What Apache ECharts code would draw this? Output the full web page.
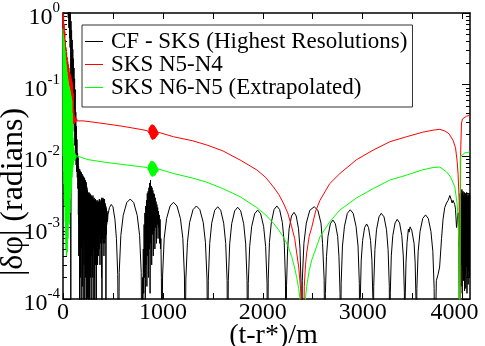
<!DOCTYPE html>
<html><head><meta charset="utf-8">
<script src="https://cdn.jsdelivr.net/npm/echarts@6/dist/echarts.min.js"></script>
<style>html,body{margin:0;padding:0;background:#fff}#c{width:485px;height:346px}</style>
</head><body><div id="c"></div>
<script>
// ---- labels / ticks ----
const seriesNames = ['CF - SKS (Highest Resolutions)', 'SKS N5-N4', 'SKS N6-N5 (Extrapolated)'];
const seriesColors = ['#000000', '#ff0000', '#00ff00'];
const xTicks = [0, 500, 1000, 1500, 2000, 2500, 3000, 3500, 4000];
const xLabels = [0, 1000, 2000, 3000, 4000];
const yDecades = [1e-4, 1e-3, 1e-2, 1e-1, 1];
const yMinor = [2e-4,3e-4,4e-4,5e-4,6e-4,7e-4,8e-4,9e-4,
  2e-3,3e-3,4e-3,5e-3,6e-3,7e-3,8e-3,9e-3,
  0.02,0.03,0.04,0.05,0.06,0.07,0.08,0.09,
  0.2,0.3,0.4,0.5,0.6,0.7,0.8,0.9];

// ---- black: CF - SKS ----
const blackOnset = [
 [50,3],[53,0.85],[56,2.6],[59,0.62],[62,1.9],[65,0.45],[68,1.4],[71,0.33],[74,1.05],[77,0.24],[78,5e-5],
 [80,0.77],[83,0.17],[86,0.57],[89,0.12],[92,0.42],[95,0.086],[98,0.31],[101,0.055],[104,0.23],[107,0.035],
 [110,0.17],[113,0.022],[116,0.12],[119,0.014],[122,0.085],[125,0.0092],[128,0.041],[131,0.0075],[134,0.026],
 [137,0.006],[140,0.017],[143,0.005],[146,0.011],[149,0.0035]
];
const blackNoise = [
 [152,0.0095],[154,0.0015],[156,0.0072],[158,0.0004],[160,0.0066],[162,0.0011],[164,0.0062],[166,0.00008],[168,0.0065],
 [170,0.0007],[172,0.0058],[174,0.0002],[176,0.0061],[178,0.0012],[180,0.0055],[182,0.00005],[184,0.0059],[186,0.0005],
 [188,0.0052],[190,0.0009],[192,0.0056],[194,0.00015],[196,0.005],[198,0.0006],[200,0.0053],[202,0.00004],[204,0.0048],
 [206,0.0008],[208,0.0051],[210,0.0003],[212,0.0046],[214,0.001],[216,0.0049],[218,0.00007],[220,0.0044],[222,0.0005],
 [224,0.0046],[226,0.0002],[228,0.0041],[230,0.0009],[232,0.0043],[234,0.00006],[236,0.0038],[238,0.0004],[240,0.0036],
 [242,0.0007],[244,0.0033],[246,0.0001],[248,0.0031],[250,0.0006],[252,0.003],[254,0.00004],[256,0.0029],[258,0.0004],
 [260,0.0031],[262,0.0008],[264,0.0028],[266,0.00009],[268,0.003],[270,0.0005],[272,0.0027],[274,0.0002],[276,0.0029],
 [278,0.0007],[280,0.0026],[282,0.00005],[284,0.0028],[286,0.0004],[288,0.0025],[290,0.0009],[292,0.0027],[294,0.0002],
 [296,0.0024],[298,0.0006],[300,0.0028],[302,0.00008],[304,0.0025],[306,0.0005],[308,0.0023],[310,0.0009],[312,0.0026],
 [314,0.0002],[316,0.0024],[318,0.00003],[320,0.0022],[322,0.0006],[324,0.0025],[326,0.0003],[328,0.0023],[330,0.0008],
 [332,0.0024],[334,0.00006],[336,0.0021],[338,0.0005],[340,0.0023],[342,0.0009],[344,0.0022],[346,0.0003],[348,0.0024],
 [350,0.0007],[352,0.0021],[354,0.0004],[356,0.0023],[358,0.001],[360,0.0022],[362,0.0005],[364,0.0025],[366,0.0008],
 [368,0.0021],[370,0.0003],[372,0.0023],[374,0.0011],[376,0.0022],[378,0.0006],[380,0.0024],[382,0.0009],[384,0.0025],
 [386,0.0002],[388,0.0026],[390,0.00005],[392,0.0024],[394,0.0007],[396,0.0025],[398,0.001],[400,0.0026],[402,0.0006],
 [404,0.0024],[406,0.0011],[408,0.0025],[410,0.0004],[412,0.0023],[414,0.0009],[416,0.0025],[418,0.0006],[420,0.0022],
 [422,0.0012],[424,0.0021],[426,0.0007],[428,0.002],[430,0.00004],[432,0.0019],[434,0.0008],[436,0.0018],[438,0.0011],
 [440,0.0017],[442,0.0013],[444,0.0016],[446,0.0012]
];
const blackArchesA = [
 [450,0.0015],[465,0.0019],[483,0.0021],[500,0.00195],[520,0.0013],[535,0.0007],[548,0.00022],[556,1e-5],
 [563,2.35e-4],[579,7.75e-4],[603,1.48e-3],[638,2.23e-3],[673,2.5e-3],[708,2.23e-3],[743,1.48e-3],[767,7.75e-4],[783,2.35e-4],[790,1e-5]
];
const blackBurst = [
 [796,0.0002],[800,0.00006],[804,0.0005],[808,0.00012],[812,0.0011],[816,0.0002],[820,0.0016],[824,0.00008],
 [828,0.002],[832,0.0003],[836,0.0024],[840,0.00015],[844,0.003],[848,0.0004],[852,0.0032],[856,0.0002],
 [860,0.0036],[864,0.0005],[868,0.0042],[872,0.00012],[876,0.0046],[880,0.0006],[884,0.0038],[888,0.0003],
 [892,0.0036],[896,0.0008],[900,0.0033],[904,0.0004],[908,0.003],[912,0.0009],[916,0.0029],[920,0.0005],
 [924,0.0026],[928,0.001],[932,0.0023],[936,0.0006],[940,0.0021],[944,0.0011],[948,0.0019],[952,0.0007],
 [956,0.0017],[960,0.001],[964,0.0015],[968,0.0006],[972,0.0013],[976,0.0005],[980,0.0007],[985,0.0002],[990,1e-5]
];
const blackArchesB = [
 [997,2.1e-4],[1013,7e-4],[1037,1.33e-3],[1072,2.0e-3],[1106,2.25e-3],[1141,2.0e-3],[1176,1.33e-3],[1200,7e-4],[1216,2.1e-4],[1223,1e-5],
 [1230,1.9e-4],[1246,6.2e-4],[1268,1.18e-3],[1302,1.78e-3],[1336,2.0e-3],[1370,1.78e-3],[1404,1.18e-3],[1426,6.2e-4],[1442,1.9e-4],[1449,1e-5],
 [1455,1.83e-4],[1469,6e-4],[1489,1.15e-3],[1519,1.74e-3],[1549,1.95e-3],[1579,1.74e-3],[1609,1.15e-3],[1629,6e-4],[1643,1.83e-4],[1649,1e-5],
 [1655,1.8e-4],[1669,5.9e-4],[1689,1.13e-3],[1719,1.71e-3],[1749,1.92e-3],[1779,1.71e-3],[1809,1.13e-3],[1829,5.9e-4],[1843,1.8e-4],[1849,1e-5],
 [1855,1.65e-4],[1869,5.4e-4],[1889,1.03e-3],[1919,1.56e-3],[1949,1.75e-3],[1979,1.56e-3],[2009,1.03e-3],[2029,5.4e-4],[2043,1.65e-4],[2049,1e-5],
 [2055,1.9e-4],[2067,6.2e-4],[2086,1.18e-3],[2113,1.78e-3],[2141,2.0e-3],[2169,1.78e-3],[2196,1.18e-3],[2215,6.2e-4],[2227,1.9e-4],[2233,1e-5],
 [2238,1.53e-4],[2249,5.05e-4],[2264,9.6e-4],[2288,1.45e-3],[2313,1.63e-3],[2335,1.45e-3],[2358,9.6e-4],[2373,5.05e-4],[2384,1.53e-4],[2389,1e-5],
 [2396,1.83e-4],[2412,6e-4],[2436,1.15e-3],[2471,1.74e-3],[2515,1.95e-3],[2552,1.74e-3],[2583,1.15e-3],[2599,6e-4],[2615,1.83e-4],[2622,1e-5],
 [2627,1.2e-4],[2638,3.9e-4],[2653,7.5e-4],[2677,1.13e-3],[2702,1.27e-3],[2727,1.13e-3],[2750,7.5e-4],[2763,3.9e-4],[2774,1.2e-4],[2779,1e-5],
 [2785,1.66e-4],[2798,5.5e-4],[2818,1.04e-3],[2847,1.58e-3],[2876,1.77e-3],[2905,1.58e-3],[2934,1.04e-3],[2954,5.5e-4],[2967,1.66e-4],[2973,1e-5],
 [2977,1.05e-4],[2986,3.5e-4],[3000,6.6e-4],[3020,1.0e-3],[3040,1.12e-3],[3059,1.0e-3],[3079,6.6e-4],[3093,3.5e-4],[3102,1.05e-4],[3106,1e-5],
 [3111,1.5e-4],[3123,4.9e-4],[3139,9.3e-4],[3164,1.41e-3],[3186,1.58e-3],[3214,1.41e-3],[3239,9.3e-4],[3255,4.9e-4],[3267,1.5e-4],[3272,1e-5],
 [3277,1.22e-4],[3287,4e-4],[3302,7.7e-4],[3325,1.16e-3],[3346,1.3e-3],[3370,1.16e-3],[3392,7.7e-4],[3407,4e-4],[3418,1.22e-4],[3422,1e-5],
 [3426,1e-4],[3434,3.2e-4],[3445,6.2e-4],[3458,9.5e-4],[3465,8.6e-4],[3475,1.02e-3],[3492,9.1e-4],[3515,6e-4],[3526,3.2e-4],[3534,1e-4],[3538,1e-5],
 [3543,1.4e-4],[3556,4.6e-4],[3575,8.8e-4],[3602,1.34e-3],[3630,1.5e-3],[3657,1.34e-3],[3684,8.8e-4],[3703,4.6e-4],[3716,1.4e-4],[3721,1e-5],
 [3738,1.8e-4],[3755,2.2e-4],[3771,2.8e-4],[3790,7e-4],[3805,1.3e-3],[3822,1.9e-3],[3840,2.2e-3],[3856,2.4e-3],[3873,2.8e-3],[3885,2.5e-3],
 [3896,2.2e-3],[3905,2.4e-3],[3913,2.4e-3],[3922,2.1e-3],[3930,1.8e-3],[3940,1.0e-3],[3948,1.3e-3],[3956,1.6e-3],[3963,5e-4],[3970,1e-5]
];
const blackEnd = [
 [3973,0.0008],[3976,0.003],[3979,0.0002],[3982,0.0033],[3985,0.00015],[3988,0.0029],[3991,0.0003],[3994,0.0034],
 [3997,0.00012],[4000,0.003],[4003,0.00025],[4006,0.0032],[4009,0.00018],[4012,0.0028],[4015,0.0003],[4018,0.0031],
 [4021,0.00013],[4024,0.0027],[4027,0.00022],[4030,0.003],[4033,0.00014],[4036,0.0028],[4039,0.00028],[4042,0.0031],
 [4045,0.00012],[4048,0.0027],[4051,0.0002],[4054,0.0029],[4057,0.00016],[4060,0.0028],[4063,0.00025],[4066,0.003],
 [4069,0.0002],[4072,0.0028]
];

// ---- red: SKS N5-N4 ----
const redOnset = [
 [0,1.0],[3,0.3],[6,0.95],[9,0.22],[12,0.7],[15,0.16],[18,0.55],[21,0.12],[24,0.42],[27,0.09],[30,0.33],[33,0.07],
 [36,0.28],[39,0.055],[42,0.24],[45,0.045],[48,0.21],[51,0.04],[54,0.19],[57,0.035],[60,0.17],[63,0.032],[66,0.15],
 [69,0.03],[72,0.14],[75,0.029],[78,0.13],[81,0.028],[84,0.12],[87,0.027],[90,0.11],[93,0.027],[96,0.1],[99,0.028],
 [102,0.075],[105,0.029],[108,0.045],[111,0.028],[114,0.037],[117,0.029],[120,0.035],[124,0.03],[128,0.034],
 [132,0.0305],[136,0.0335],[140,0.031],[145,0.033],[150,0.0315],[160,0.0322]
];
const redMid = [
 [200,0.031],[300,0.0298],[440,0.028],[600,0.026],[773,0.0236],[845,0.0226]
];
const redBurst = [
 [848,0.0222],[851,0.0232],[854,0.0215],[857,0.0238],[860,0.0209],[863,0.0245],[866,0.0202],[869,0.0252],[872,0.0195],
 [875,0.026],[878,0.0186],[881,0.0268],[884,0.0178],[887,0.0272],[890,0.0172],[893,0.0275],[896,0.017],[899,0.0272],
 [902,0.0171],[905,0.027],[908,0.0172],[911,0.0266],[914,0.0173],[917,0.026],[920,0.0176],[923,0.0252],[926,0.018],
 [929,0.0245],[932,0.0185],[935,0.0236],[938,0.019],[941,0.0228],[944,0.0195],[947,0.0222],[950,0.0198],[953,0.0215],
 [956,0.0202],[960,0.0208],[970,0.0205]
];
const redLate = [
 [1106,0.0186],[1300,0.0163],[1440,0.01426],[1600,0.0118],[1773,0.0088],[1940,0.0064],[2030,0.005],[2106,0.0037],
 [2160,0.0029],[2206,0.0022],[2250,0.0016],[2290,0.00102],[2320,0.0007],[2340,0.00044],[2360,0.00028],[2383,0.00012],
 [2400,0.00001],[2416,0.00015],[2428,0.0003],[2440,0.00044],[2465,0.00075],[2490,0.001],[2530,0.0017],[2573,0.0024],
 [2670,0.0041],[2773,0.0057],[2940,0.0089],[3106,0.0121],[3271,0.0158],[3440,0.0186],[3600,0.0215],[3706,0.023],
 [3773,0.0236],[3823,0.0224],[3865,0.0205],[3906,0.0165],[3930,0.013],[3946,0.0085],[3956,0.0055],[3966,0.0024],
 [3974,0.00001],[3982,0.012],[3990,0.029],[4000,0.033],[4013,0.0345],[4040,0.036],[4072,0.037]
];

// ---- green: SKS N6-N5 (Extrapolated) ----
const greenOnset = [
 [0,0.6],[2,0.01],[4,0.5],[6,0.006],[8,0.45],[10,0.004],[12,0.4],[14,0.0025],[16,0.35],[18,0.002],[20,0.3],[22,0.0012],
 [24,0.25],[26,0.0008],[28,0.22],[30,0.0005],[32,0.19],[34,0.0004],[36,0.17],[38,0.0006],[40,0.15],[42,0.00045],
 [44,0.13],[46,0.0009],[48,0.12],[50,0.0007],[52,0.11],[54,0.0012],[56,0.1],[58,0.0015],[60,0.095],[62,0.0011],
 [64,0.09],[66,0.002],[68,0.085],[70,0.0016],[72,0.08],[74,0.0025],[76,0.075],[78,0.003],[80,0.07],[82,0.0035],
 [84,0.065],[86,0.004],[88,0.06],[90,0.005],[92,0.04],[94,0.006],[96,0.028],[98,0.0068],[100,0.018],[102,0.0075],
 [104,0.015],[106,0.008],[108,0.013],[110,0.0085],[112,0.012],[115,0.0088],[118,0.011],[121,0.009],[124,0.0105],
 [128,0.0093],[132,0.0101],[136,0.0095],[140,0.0099],[150,0.0096]
];
const greenMid = [
 [250,0.0089],[440,0.0081],[600,0.0076],[773,0.0071],[845,0.0069]
];
const greenBurst = [
 [848,0.0066],[851,0.0071],[854,0.0064],[857,0.0074],[860,0.0062],[863,0.0077],[866,0.0059],[869,0.0079],[872,0.0057],
 [875,0.0082],[878,0.0055],[881,0.0084],[884,0.0053],[887,0.0085],[890,0.0052],[893,0.0085],[896,0.0052],[899,0.0084],
 [902,0.0052],[905,0.0083],[908,0.0053],[911,0.0082],[914,0.0053],[917,0.008],[920,0.0054],[923,0.0078],[926,0.0055],
 [929,0.0076],[932,0.0057],[935,0.0073],[938,0.0059],[941,0.007],[944,0.006],[947,0.0068],[950,0.0061],[953,0.0066],
 [956,0.0062],[960,0.0064],[970,0.0063]
];
const greenLate = [
 [1106,0.0057],[1300,0.0049],[1440,0.0043],[1600,0.0035],[1773,0.0027],[1940,0.0019],[2030,0.0015],[2106,0.00115],
 [2160,0.00092],[2206,0.00074],[2250,0.00056],[2290,0.00039],[2320,0.00027],[2340,0.0002],[2360,0.00014],[2373,0.0001],
 [2390,0.00004],[2400,0.00001],[2420,0.00008],[2440,0.00015],[2465,0.00025],[2490,0.00035],[2530,0.0005],[2573,0.00074],
 [2670,0.0012],[2773,0.00176],[2940,0.0026],[3106,0.0035],[3271,0.0046],[3440,0.0054],[3600,0.0064],[3706,0.0069],
 [3773,0.007],[3840,0.006],[3880,0.0051],[3923,0.0037],[3945,0.0022],[3956,0.0014],[3963,0.0006],[3972,0.00001],
 [3978,0.0098],[3990,0.0104],[4021,0.011],[4072,0.0114]
];

const blackData = [].concat(blackOnset, blackNoise, blackArchesA, blackBurst, blackArchesB, blackEnd);
const redData = [].concat(redOnset, redMid, redBurst, redLate);
const greenData = [].concat(greenOnset, greenMid, greenBurst, greenLate);
const allData = [blackData, redData, greenData];

const FONT = '"Liberation Serif","Times New Roman","DejaVu Serif",serif';
const chart = echarts.init(document.getElementById('c'), null, {renderer: 'canvas'});

const axisLineStyle = {show: true, lineStyle: {color: '#000', width: 1.5}};
const yMajorTick = {show: true, inside: true, length: 8, customValues: yDecades, lineStyle: {color: '#000', width: 1}};
const yMinorTick = {show: true, inside: true, length: 4, customValues: yMinor, lineStyle: {color: '#000', width: 1}};
const xTick = {show: true, inside: true, length: 6, customValues: xTicks, lineStyle: {color: '#000', width: 1}};
const logBase = {type: 'log', logBase: 10, min: 1e-4, max: 1, splitLine: {show: false}, minorTick: {show: false}};

function yAxis(pos, major) {
  return Object.assign({}, logBase, {
    position: pos,
    axisLine: major ? axisLineStyle : {show: false},
    axisTick: major ? yMajorTick : yMinorTick,
    axisLabel: {show: false}
  });
}

const leftMain = Object.assign(yAxis('left', true), {
  axisLabel: {
    show: true, customValues: yDecades, margin: 3,
    formatter: function (v) { return '{b|10}{s|' + Math.round(Math.log10(v)) + '}'; },
    rich: {
      b: {fontFamily: FONT, fontSize: 24, lineHeight: 24, color: '#000', padding: [10, 0, 0, 0]},
      s: {fontFamily: FONT, fontSize: 15, lineHeight: 15, color: '#000', verticalAlign: 'top'}
    }
  },
  name: '|δφ| (radians)', nameLocation: 'middle', nameGap: 33, nameRotate: 90, nameMoveOverlap: false,
  nameTextStyle: {fontFamily: FONT, fontSize: 32, color: '#000', padding: [0, 72, 0, 0]}
});

const option = {
  animation: false,
  backgroundColor: '#fff',
  grid: {left: 63, right: 15, top: 13, bottom: 47, containLabel: false, outerBoundsMode: 'none'},
  legend: {
    left: 82, top: 25, orient: 'vertical', data: seriesNames, icon: 'rect',
    itemWidth: 18, itemHeight: 1, itemGap: 0, padding: [5, 5, 8, 3],
    borderColor: '#333', borderWidth: 1, backgroundColor: '#fff', selectedMode: false,
    textStyle: {fontFamily: FONT, fontSize: 23, color: '#000', lineHeight: 21.5, padding: [0, 0, 0, 3]}
  },
  xAxis: [
    {
      type: 'value', min: 0, max: 4075, position: 'bottom', splitLine: {show: false},
      axisLine: axisLineStyle, axisTick: xTick,
      axisLabel: {
        customValues: xLabels, margin: 2, fontFamily: FONT, fontSize: 24, color: '#000',
        formatter: function (v) { return v === 4000 ? '{r|4000}' : String(v); },
        rich: {r: {fontFamily: FONT, fontSize: 24, color: '#000', padding: [0, 16, 0, 0]}}
      },
      name: '(t-r*)/m', nameLocation: 'middle', nameGap: 23, nameMoveOverlap: false,
      nameTextStyle: {fontFamily: FONT, fontSize: 28, color: '#000', padding: [0, 0, 0, 14]}
    },
    {
      type: 'value', min: 0, max: 4075, position: 'top', splitLine: {show: false},
      axisLine: axisLineStyle, axisTick: xTick, axisLabel: {show: false}
    }
  ],
  yAxis: [leftMain, yAxis('left', false), yAxis('right', true), yAxis('right', false)],
  series: allData.map(function (d, i) {
    return {
      name: seriesNames[i], type: 'line', data: d, xAxisIndex: 0, yAxisIndex: 0,
      showSymbol: false, symbol: 'none', clip: true,
      lineStyle: {color: seriesColors[i], width: 1},
      itemStyle: {color: seriesColors[i]},
      emphasis: {disabled: true}
    };
  })
};
chart.setOption(option);
</script>
</body></html>
